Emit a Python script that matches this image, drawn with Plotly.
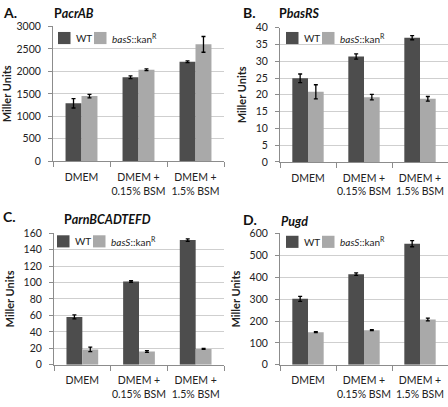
import plotly.graph_objects as go
from plotly.subplots import make_subplots

categories = ["DMEM", "DMEM +<br>0.15% BSM", "DMEM +<br>1.5% BSM"]
series_names = ["WT", "<i>basS</i>::kan<sup>R</sup>"]

# Panel A: PacrAB
a_wt = [1290, 1870, 2215]
a_wt_err = [105, 30, 20]
a_bas = [1450, 2035, 2600]
a_bas_err = [40, 20, 175]

# Panel B: PbasRS
b_wt = [24.9, 31.4, 37.0]
b_wt_err = [1.3, 0.8, 0.6]
b_bas = [20.9, 19.3, 18.8]
b_bas_err = [2.1, 0.8, 0.7]

# Panel C: ParnBCADTEFD
c_wt = [58.2, 101.3, 151.5]
c_wt_err = [2.5, 1.0, 1.5]
c_bas = [18.7, 16.2, 19.3]
c_bas_err = [2.8, 1.0, 0.5]

# Panel D: Pugd
d_wt = [301, 414, 553]
d_wt_err = [11, 6, 14]
d_bas = [149, 158, 207]
d_bas_err = [2, 2, 6]

panel_letters = ["A.", "B.", "C.", "D."]
panel_titles = ["<b>P<i>acrAB</i></b>", "<b>P<i>basRS</i></b>",
                "<b>P<i>arnBCADTEFD</i></b>", "<b><i>Pugd</i></b>"]
y_ranges = [[0, 3000], [0, 40], [0, 160], [0, 600]]
y_dticks = [500, 5, 20, 100]

W, H = 448, 407
FONT = "Lato, 'Liberation Sans', sans-serif"
WT_COLOR = "#4d4d4d"
BAS_COLOR = "#a9a9a9"
SERIES_COLORS = [WT_COLOR, BAS_COLOR]
GRID = "#cfcfcf"
AXIS = "#8c8c8c"

fig = make_subplots(rows=2, cols=2)

panels = [
    (a_wt, a_wt_err, a_bas, a_bas_err),
    (b_wt, b_wt_err, b_bas, b_bas_err),
    (c_wt, c_wt_err, c_bas, c_bas_err),
    (d_wt, d_wt_err, d_bas, d_bas_err),
]

for i, (wt, wte, bas, base) in enumerate(panels):
    r, c = i // 2 + 1, i % 2 + 1
    for name, vals, errs, col in [(series_names[0], wt, wte, WT_COLOR),
                                  (series_names[1], bas, base, BAS_COLOR)]:
        fig.add_trace(go.Bar(
            x=categories, y=vals, name=name,
            marker=dict(color=col, line=dict(width=0)),
            error_y=dict(type="data", array=errs, visible=True,
                         color="black", thickness=1.3, width=2),
            showlegend=False,
        ), row=r, col=c)

def px_x(p):
    return p / W

def px_y(p):
    return 1 - p / H

x_domains = [[53, 224], [280, 448], [54, 224], [280, 448]]
y_domains = [[21, 160], [22.3, 160.7], [234, 369.7], [234.3, 369.7]]

for i in range(4):
    xs = "xaxis" if i == 0 else f"xaxis{i+1}"
    ys = "yaxis" if i == 0 else f"yaxis{i+1}"
    xd = x_domains[i]
    yd = y_domains[i]
    fig.layout[xs].update(
        domain=[px_x(xd[0]), px_x(xd[1])],
        showline=True, linecolor=AXIS, linewidth=1,
        ticks="outside", tickson="boundaries", ticklen=5, tickcolor=AXIS,
        ticklabelstandoff=6, tickangle=0,
        tickfont=dict(family=FONT, size=10.5, color="#222"),
        showgrid=False, zeroline=False,
    )
    fig.layout[ys].update(
        domain=[px_y(yd[1]), px_y(yd[0])],
        range=y_ranges[i], dtick=y_dticks[i],
        showline=True, linecolor=AXIS, linewidth=1,
        ticks="outside", ticklen=4, tickcolor=AXIS,
        ticklabelstandoff=5,
        showgrid=True, gridcolor=GRID, gridwidth=1, zeroline=False,
        tickfont=dict(family=FONT, size=10.5, color="#222"),
        title=dict(text="<b>Miller Units</b>", standoff=6,
                   font=dict(family=FONT, size=11, color="#222")),
    )

# legend key (swatch + label) per panel, positioned like the original's
legend_anchor = [(58, 33), (286, 33), (57, 242.5), (286, 243)]
sw = 12.5
swatch_offsets = [0, 36]
text_offsets = [16, 52]
shapes = []
annotations = []
for i in range(4):
    lx, ly = legend_anchor[i]
    for k in range(2):
        x0 = lx + swatch_offsets[k]
        shapes.append(dict(
            type="rect", xref="paper", yref="paper",
            x0=px_x(x0), x1=px_x(x0 + sw),
            y0=px_y(ly + sw / 2), y1=px_y(ly - sw / 2),
            fillcolor=SERIES_COLORS[k], line=dict(width=0)))
        annotations.append(dict(
            text=series_names[k], x=px_x(lx + text_offsets[k]), y=px_y(ly),
            xref="paper", yref="paper", xanchor="left", yanchor="middle",
            showarrow=False, font=dict(family=FONT, size=10, color="#222")))

letter_pos = [(1, 7), (241, 7), (1, 217), (241, 220)]
title_pos = [(52, 8), (277, 8), (62, 220), (279, 222)]
for i in range(4):
    lx, ly = letter_pos[i]
    annotations.append(dict(
        text=f"<b>{panel_letters[i]}</b>", x=px_x(lx), y=px_y(ly),
        xref="paper", yref="paper", xanchor="left", yanchor="middle",
        showarrow=False, font=dict(family=FONT, size=14, color="#111")))
    tx, ty = title_pos[i]
    annotations.append(dict(
        text=panel_titles[i], x=px_x(tx), y=px_y(ty),
        xref="paper", yref="paper", xanchor="left", yanchor="middle",
        showarrow=False, font=dict(family=FONT, size=12.5, color="#111")))

fig.update_layout(
    width=W, height=H,
    margin=dict(l=0, r=0, t=0, b=0),
    paper_bgcolor="white", plot_bgcolor="white",
    barmode="group", bargap=0.44, bargroupgap=0,
    annotations=annotations, shapes=shapes,
    font=dict(family=FONT, size=11, color="#222"),
    showlegend=False,
)

fig.write_html("out.html",
               config={"displayModeBar": False},
               post_script=["document.body.style.margin='0';"
                            "document.body.style.overflow='hidden';"])
